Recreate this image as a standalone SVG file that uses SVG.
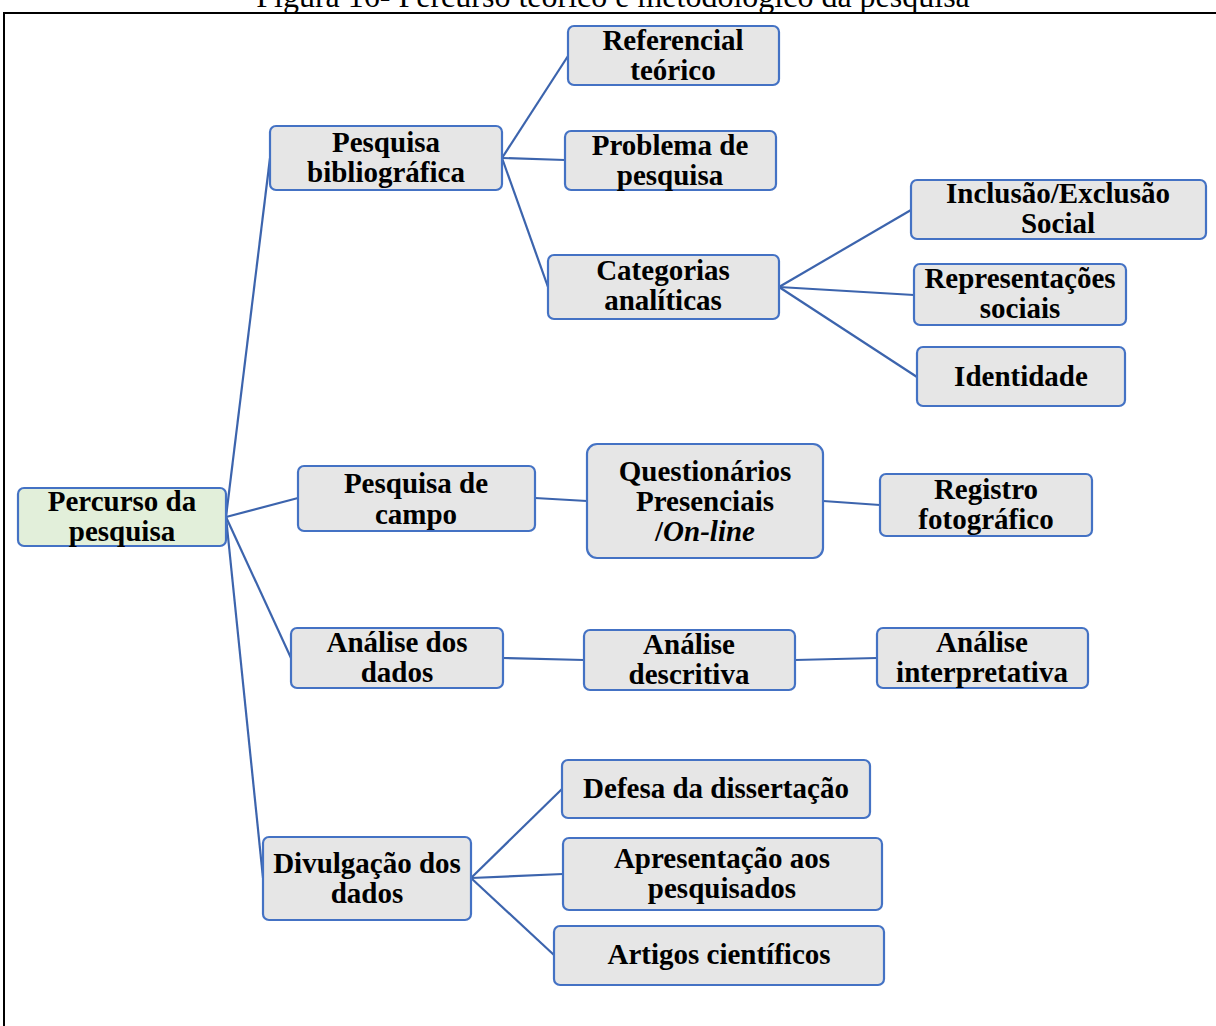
<svg xmlns="http://www.w3.org/2000/svg" width="1216" height="1026" viewBox="0 0 1216 1026">
<style>
.n rect{fill:#e6e6e6;stroke:#4472c4;stroke-width:2.2}
.root rect{fill:#e2efda}
.n text{font-family:"Liberation Serif","Times New Roman",serif;font-weight:bold;font-size:29px;text-anchor:middle;fill:#000}
#connectors line{stroke:#3c64ad;stroke-width:2.2}
</style>
<rect width="1216" height="1026" fill="#fff"/>
<text x="613" y="7" font-family="Liberation Serif, Times New Roman, serif" font-size="32" text-anchor="middle">Figura 16- Percurso teórico e metodológico da pesquisa</text>
<path d="M4,1026 V13 H1220" fill="none" stroke="#000" stroke-width="2"/>
<g id="connectors">
<line x1="226" y1="517" x2="270" y2="158"/>
<line x1="226" y1="517" x2="298" y2="498"/>
<line x1="226" y1="517" x2="291" y2="658"/>
<line x1="226" y1="517" x2="263" y2="878"/>
<line x1="502" y1="158" x2="568" y2="56"/>
<line x1="502" y1="158" x2="565" y2="160"/>
<line x1="502" y1="158" x2="548" y2="287"/>
<line x1="779" y1="287" x2="911" y2="210"/>
<line x1="779" y1="287" x2="914" y2="295"/>
<line x1="779" y1="287" x2="917" y2="377"/>
<line x1="535" y1="498" x2="587" y2="501"/>
<line x1="823" y1="501" x2="880" y2="505"/>
<line x1="503" y1="658" x2="584" y2="660"/>
<line x1="795" y1="660" x2="877" y2="658"/>
<line x1="471" y1="878" x2="562" y2="789"/>
<line x1="471" y1="878" x2="563" y2="874"/>
<line x1="471" y1="878" x2="554" y2="955"/>
</g>
<g id="root" class="n root"><rect x="18" y="488" width="208" height="58" rx="6"/><text x="122" y="511">Percurso da</text><text x="122" y="541">pesquisa</text></g>
<g id="pesqbib" class="n"><rect x="270" y="126" width="232" height="64" rx="6"/><text x="386" y="152">Pesquisa</text><text x="386" y="182">bibliográfica</text></g>
<g id="referencial" class="n"><rect x="568" y="26" width="211" height="59" rx="6"/><text x="673" y="50">Referencial</text><text x="673" y="80">teórico</text></g>
<g id="problema" class="n"><rect x="565" y="131" width="211" height="59" rx="6"/><text x="670" y="155">Problema de</text><text x="670" y="185">pesquisa</text></g>
<g id="categorias" class="n"><rect x="548" y="255" width="231" height="64" rx="6"/><text x="663" y="280">Categorias</text><text x="663" y="310">analíticas</text></g>
<g id="inclusao" class="n"><rect x="911" y="180" width="295" height="59" rx="6"/><text x="1058" y="203">Inclusão/Exclusão</text><text x="1058" y="233">Social</text></g>
<g id="representacoes" class="n"><rect x="914" y="264" width="212" height="61" rx="6"/><text x="1020" y="288">Representações</text><text x="1020" y="318">sociais</text></g>
<g id="identidade" class="n"><rect x="917" y="347" width="208" height="59" rx="6"/><text x="1021" y="386">Identidade</text></g>
<g id="pesqcampo" class="n"><rect x="298" y="466" width="237" height="65" rx="6"/><text x="416" y="493">Pesquisa de</text><text x="416" y="524">campo</text></g>
<g id="questionarios" class="n"><rect x="587" y="444" width="236" height="114" rx="10"/><text x="705" y="481">Questionários</text><text x="705" y="511">Presenciais</text><text x="705" y="541">/<tspan font-style="italic">On-line</tspan></text></g>
<g id="registro" class="n"><rect x="880" y="474" width="212" height="62" rx="6"/><text x="986" y="499">Registro</text><text x="986" y="529">fotográfico</text></g>
<g id="analisedados" class="n"><rect x="291" y="628" width="212" height="60" rx="6"/><text x="397" y="652">Análise dos</text><text x="397" y="682">dados</text></g>
<g id="descritiva" class="n"><rect x="584" y="630" width="211" height="60" rx="6"/><text x="689" y="654">Análise</text><text x="689" y="684">descritiva</text></g>
<g id="interpretativa" class="n"><rect x="877" y="628" width="211" height="60" rx="6"/><text x="982" y="652">Análise</text><text x="982" y="682">interpretativa</text></g>
<g id="divulgacao" class="n"><rect x="263" y="837" width="208" height="83" rx="6"/><text x="367" y="873">Divulgação dos</text><text x="367" y="903">dados</text></g>
<g id="defesa" class="n"><rect x="562" y="760" width="308" height="58" rx="6"/><text x="716" y="798">Defesa da dissertação</text></g>
<g id="apresentacao" class="n"><rect x="563" y="838" width="319" height="72" rx="6"/><text x="722" y="868">Apresentação aos</text><text x="722" y="898">pesquisados</text></g>
<g id="artigos" class="n"><rect x="554" y="926" width="330" height="59" rx="6"/><text x="719" y="964">Artigos científicos</text></g>
</svg>
